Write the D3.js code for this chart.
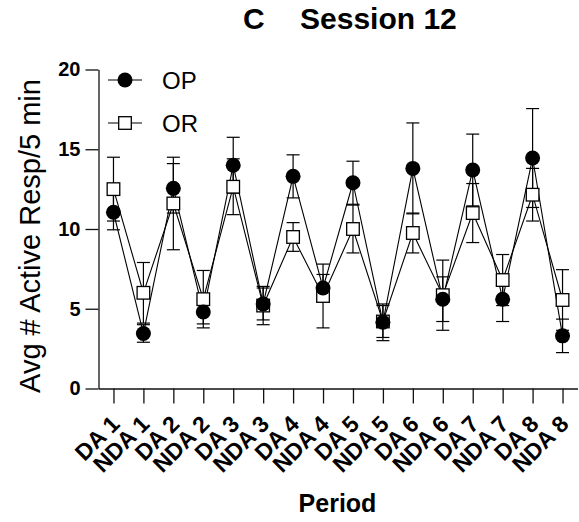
<!DOCTYPE html>
<html>
<head>
<meta charset="utf-8">
<script src="https://cdn.jsdelivr.net/npm/d3@7"></script>
<style>
  body { margin: 0; background: #fff; }
  text { font-family: "Liberation Sans", Arial, sans-serif; }
</style>
</head>
<body>
<div id="chart"></div>
<script>
const WIDTH = 579;
const HEIGHT = 522;

// === DATA ===
const periods = ["DA 1", "NDA 1", "DA 2", "NDA 2", "DA 3", "NDA 3", "DA 4", "NDA 4",
                 "DA 5", "NDA 5", "DA 6", "NDA 6", "DA 7", "NDA 7", "DA 8", "NDA 8"];
const opMean = [11.05, 3.45, 12.55, 4.8, 14.0, 5.3, 13.3, 6.3, 12.9, 4.15, 13.8, 5.6, 13.7, 5.6, 14.45, 3.3];
const opSem  = [1.1, 0.55, 1.55, 0.75, 1.75, 1.0, 1.35, 0.85, 1.35, 1.15, 2.85, 1.4, 2.25, 1.4, 3.1, 1.05];
const orMean = [12.5, 6.0, 11.6, 5.6, 12.65, 5.2, 9.5, 5.8, 10.0, 4.2, 9.75, 5.85, 11.0, 6.8, 12.15, 5.55];
const orSem  = [2.0, 1.9, 2.9, 1.8, 1.75, 1.2, 0.9, 2.0, 1.5, 1.0, 1.25, 2.2, 1.85, 1.6, 1.65, 1.9];
const yTicks = [0, 5, 10, 15, 20];

const svg = d3.select("#chart")
    .append("svg")
    .attr("width", WIDTH)
    .attr("height", HEIGHT);

const x = d3.scaleLinear().domain([-0.5, periods.length - 0.5]).range([98.5, 577.5]);
const y = d3.scaleLinear().domain([0, 20]).range([388.5, 69.5]);

// === AXES ===
const yAxis = svg.append("g")
    .attr("transform", "translate(98.5,0)")
    .call(d3.axisLeft(y).tickValues(yTicks).tickSize(13).tickSizeOuter(0).tickPadding(5));
yAxis.selectAll("text").style("font-size", "20px").style("font-weight", "bold").attr("fill", "#000");

const xAxis = svg.append("g")
    .attr("transform", "translate(0,388.5)")
    .call(d3.axisBottom(x).tickValues(d3.range(periods.length)).tickFormat(i => periods[i])
        .tickSize(15).tickSizeOuter(0));
xAxis.selectAll("text")
    .style("font-size", "23px")
    .style("font-weight", "bold")
    .attr("fill", "#000")
    .attr("text-anchor", "end")
    .attr("transform", "translate(7,37) rotate(-45)")
    .attr("x", 0)
    .attr("y", 0)
    .attr("dy", 0);

svg.selectAll(".domain, .tick line").attr("stroke", "#111").attr("stroke-width", 1.3);

// === SERIES ===
const series = [
    { name: "OR", mean: orMean, sem: orSem },
    { name: "OP", mean: opMean, sem: opSem }
];

const CAP = 6.5;
series.forEach(s => {
    const g = svg.append("g").attr("stroke", "#000").attr("stroke-width", 1.2);
    s.mean.forEach((m, i) => {
        const cx = x(i);
        g.append("line").attr("x1", cx).attr("x2", cx).attr("y1", y(m - s.sem[i])).attr("y2", y(m + s.sem[i]));
        g.append("line").attr("x1", cx - CAP).attr("x2", cx + CAP).attr("y1", y(m + s.sem[i])).attr("y2", y(m + s.sem[i]));
        g.append("line").attr("x1", cx - CAP).attr("x2", cx + CAP).attr("y1", y(m - s.sem[i])).attr("y2", y(m - s.sem[i]));
    });
});

const line = d3.line().x((d, i) => x(i)).y(d => y(d));
series.forEach(s => {
    svg.append("path")
        .datum(s.mean)
        .attr("d", line)
        .attr("fill", "none")
        .attr("stroke", "#000")
        .attr("stroke-width", 1.1);
});

// OR squares
svg.selectAll(".sq")
    .data(orMean)
    .enter()
    .append("rect")
    .attr("class", "sq")
    .attr("x", (d, i) => x(i) - 6.3)
    .attr("y", d => y(d) - 6.3)
    .attr("width", 12.6)
    .attr("height", 12.6)
    .attr("fill", "#fff")
    .attr("stroke", "#000")
    .attr("stroke-width", 1.3);

// OP circles
svg.selectAll(".dot")
    .data(opMean)
    .enter()
    .append("circle")
    .attr("class", "dot")
    .attr("cx", (d, i) => x(i))
    .attr("cy", d => y(d))
    .attr("r", 7.5)
    .attr("fill", "#000");

// === LEGEND ===
const legend = svg.append("g");
[["OP", 80], ["OR", 123]].forEach(([name, ly]) => {
    legend.append("line")
        .attr("x1", 108).attr("x2", 142).attr("y1", ly).attr("y2", ly)
        .attr("stroke", "#000").attr("stroke-width", 1.1);
    if (name === "OP") {
        legend.append("circle").attr("cx", 125).attr("cy", ly).attr("r", 7.5).attr("fill", "#000");
    } else {
        legend.append("rect").attr("x", 125 - 6.3).attr("y", ly - 6.3).attr("width", 12.6).attr("height", 12.6)
            .attr("fill", "#fff").attr("stroke", "#000").attr("stroke-width", 1.3);
    }
    legend.append("text")
        .attr("x", 162).attr("y", ly + 9)
        .style("font-size", "24px")
        .text(name);
});

// === TITLES ===
svg.append("text")
    .attr("x", 243).attr("y", 29)
    .style("font-size", "30px").style("font-weight", "bold")
    .text("C");
svg.append("text")
    .attr("x", 300).attr("y", 29)
    .style("font-size", "30px").style("font-weight", "bold")
    .text("Session 12");

svg.append("text")
    .attr("text-anchor", "middle")
    .attr("transform", "translate(40,236) rotate(-90)")
    .style("font-size", "29px")
    .text("Avg # Active Resp/5 min");

svg.append("text")
    .attr("x", 337.5).attr("y", 512)
    .attr("text-anchor", "middle")
    .style("font-size", "25px").style("font-weight", "bold")
    .text("Period");
</script>
</body>
</html>
